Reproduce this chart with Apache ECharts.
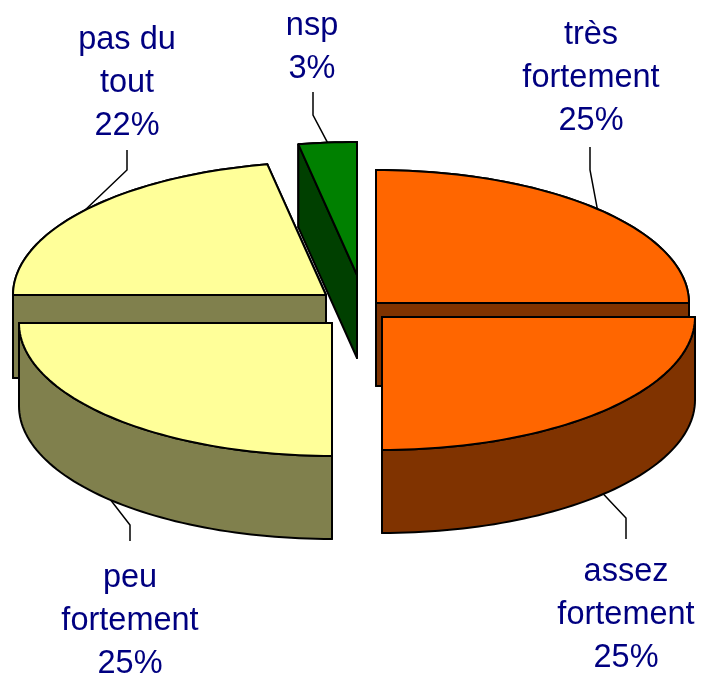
<!DOCTYPE html>
<html>
<head>
<meta charset="utf-8">
<style>
  html, body { margin: 0; padding: 0; background: #fff; }
  #chart { width: 702px; height: 676px; }
</style>
<script src="https://cdn.jsdelivr.net/npm/echarts@6/dist/echarts.min.js"></script>
</head>
<body>
<div id="chart"></div>
<script>
const categories = ['très\nfortement', 'assez\nfortement', 'peu\nfortement', 'pas du\ntout', 'nsp']
const shares = [25, 25, 25, 22, 3]

const topColors = ['#ff6600', '#ff6600', '#ffff99', '#ffff99', '#008000']
const wallColors = ['#803300', '#803300', '#80804d', '#80804d', '#004000']

// exploded slice centres, paint order and label placement, same order as categories
const centers = [[376, 303], [382, 317], [332, 323], [326, 295], [357, 275]]
const paintOrder = [2, 4, 3, 1, 0]
const elbows = [[590, 170], [626, 518], [130, 525], [127, 170], [313, 115]]
const leaderEnds = [[590, 147], [626, 539], [130, 541], [127, 150], [313, 92]]
const labelPos = [[591, 14], [626, 551], [130, 557], [127, 19], [312, 5]]
const rx = 313
const ry = 133
const depth = 83

const total = shares.reduce((sum, value) => sum + value, 0)

function rimPoint(center, fraction, drop) {
  const angle = fraction * Math.PI * 2
  return [
    center[0] + rx * Math.sin(angle),
    center[1] - ry * Math.cos(angle) + drop
  ]
}

function arc(center, from, to, drop) {
  const steps = Math.max(4, Math.ceil((to - from) * 240))
  const points = []
  for (let i = 0; i <= steps; i++) {
    points.push(rimPoint(center, from + (to - from) * i / steps, drop))
  }
  return points
}

function renderSlice(params, api) {
  const index = params.dataIndex
  const center = centers[index]
  const from = shares.slice(0, index).reduce((sum, value) => sum + value, 0) / total
  const to = from + api.value(0) / total
  const z2 = paintOrder[index] * 10
  const line = { stroke: '#000', lineWidth: 2, lineJoin: 'round' }
  const wall = { fill: wallColors[index], ...line }
  const face = (fraction) => {
    const p = rimPoint(center, fraction, 0)
    return [center, p, [p[0], p[1] + depth], [center[0], center[1] + depth]]
  }

  const top = arc(center, from, to, 0)
  const rim = top.concat(arc(center, from, to, depth).reverse())
  const mid = (from + to) / 2
  const isFront = Math.cos(mid * Math.PI * 2) < 0
  // front slices show their rim, back slices show their cut faces
  const anchor = rimPoint(center, mid, isFront ? depth : 0)

  const children = [
    { type: 'polyline', z2: 0, shape: { points: [anchor, elbows[index], leaderEnds[index]] }, style: { stroke: '#000', lineWidth: 1.5, fill: null } },
    { type: 'polygon', z2: z2 + (isFront ? 3 : 1), shape: { points: rim }, style: wall },
    { type: 'polygon', z2: z2 + (isFront ? 1 : 2), shape: { points: face(to) }, style: wall },
    { type: 'polygon', z2: z2 + (isFront ? 2 : 3), shape: { points: face(from) }, style: wall },
    { type: 'polygon', z2: z2 + 4, shape: { points: [center].concat(top) }, style: { fill: topColors[index], ...line } },
    {
      type: 'text',
      z2: 100,
      style: {
        text: categories[index] + '\n' + shares[index] + '%',
        x: labelPos[index][0],
        y: labelPos[index][1],
        align: 'center',
        verticalAlign: 'top',
        fill: '#000080',
        font: '32.5px "Liberation Sans", Arial, sans-serif',
        lineHeight: 43
      }
    }
  ]
  return { type: 'group', children }
}

const chart = echarts.init(document.getElementById('chart'), null, { renderer: 'canvas' })
chart.setOption({
  animation: false,
  backgroundColor: '#fff',
  series: [
    {
      type: 'custom',
      coordinateSystem: 'none',
      renderItem: renderSlice,
      data: shares.map((value, index) => ({ name: categories[index], value: [value] }))
    }
  ]
})
</script>
</body>
</html>
